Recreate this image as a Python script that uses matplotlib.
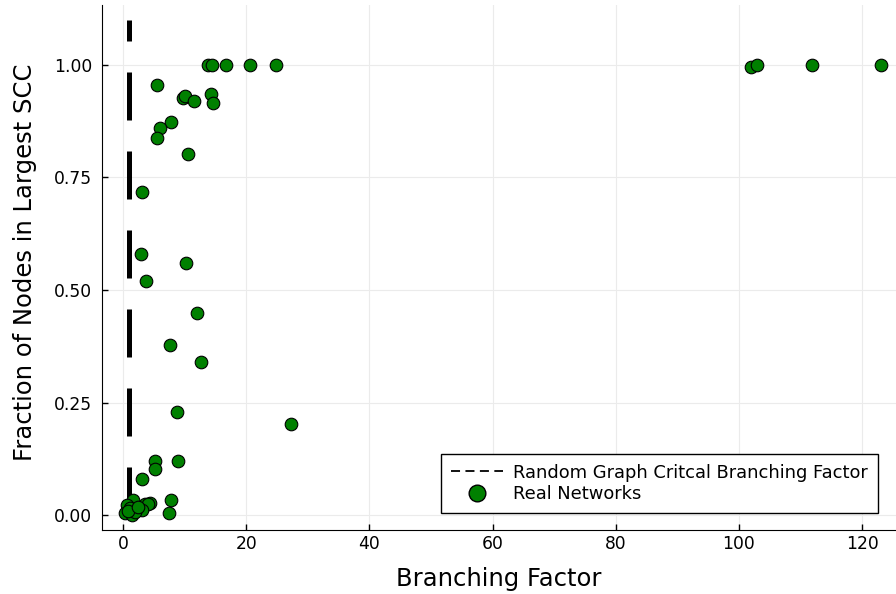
import matplotlib
matplotlib.use("Agg")
import matplotlib.pyplot as plt
from matplotlib.lines import Line2D

# branching factor vs fraction of nodes in the largest SCC
branching = [13.85, 14.4, 16.7, 20.7, 24.9, 5.57, 9.74, 10.1, 11.5, 14.3, 14.6,
             7.74, 6.0, 5.47, 10.5, 3.03, 2.98, 10.2, 3.73, 12.0, 7.68, 12.7,
             8.8, 27.3, 101.9, 102.9, 111.8, 123.05,
             5.25, 5.14, 8.98, 3.08, 7.85, 7.52, 3.57, 4.38, 4.1, 1.67, 0.6,
             0.3, 1.4, 3.03, 1.1, 1.95, 0.9, 2.4]
frac_scc = [1.0, 1.0, 1.0, 1.0, 1.0, 0.956, 0.927, 0.930, 0.919, 0.936, 0.916,
            0.874, 0.859, 0.838, 0.803, 0.718, 0.581, 0.559, 0.519, 0.450, 0.378, 0.341,
            0.228, 0.202, 0.996, 1.0, 1.0, 1.0,
            0.121, 0.103, 0.121, 0.080, 0.034, 0.005, 0.024, 0.026, 0.024, 0.033, 0.022,
            0.004, 0.0, 0.011, 0.015, 0.007, 0.010, 0.018]

crit_x = [1, 1]
crit_y = [0, 1.1]

xticks = [0, 20, 40, 60, 80, 100, 120]
yticks = [0.0, 0.25, 0.5, 0.75, 1.0]

fig = plt.figure(figsize=(8.96, 5.94), dpi=100)
ax = fig.add_axes([102/896, 64/594, 794/896, 525/594])

ax.plot(crit_x, crit_y, color="black", lw=3.6, dashes=(9.6, 6.2), zorder=2)
ax.scatter(branching, frac_scc, s=82, color="#008000", edgecolor="black",
           linewidth=0.8, zorder=3)

ax.set_xlim(-3.4, 125.5)
ax.set_ylim(-0.033, 1.133)
ax.set_xticks(xticks)
ax.set_yticks(yticks)
ax.set_yticklabels([f"{v:.2f}" for v in yticks])
ax.tick_params(direction="in", labelsize=12.3, length=4, width=1)
ax.tick_params(axis="y", pad=7)
ax.grid(True, color="#ebebeb", lw=0.8)
ax.set_axisbelow(True)
for s in ["top", "right"]:
    ax.spines[s].set_visible(False)

ax.set_xlabel("Branching Factor", fontsize=17.5, labelpad=10)
ax.set_ylabel("Fraction of Nodes in Largest SCC", fontsize=17.5)
ax.yaxis.set_label_coords(-0.082, 0.51)

handles = [Line2D([], [], color="black", lw=1.3, ls=(0, (5, 3))),
           Line2D([], [], marker="o", ls="", markersize=12,
                  markerfacecolor="#008000", markeredgecolor="black")]
ax.legend(handles, ["Random Graph Critcal Branching Factor", "Real Networks"],
          loc="lower right", bbox_to_anchor=(0.984, 0.022), fontsize=12.9,
          frameon=True, fancybox=False, edgecolor="black", framealpha=1,
          handlelength=2.9, handletextpad=0.6, borderpad=0.55,
          labelspacing=0.2, borderaxespad=0.3)

fig.savefig("out.png", dpi=100)
